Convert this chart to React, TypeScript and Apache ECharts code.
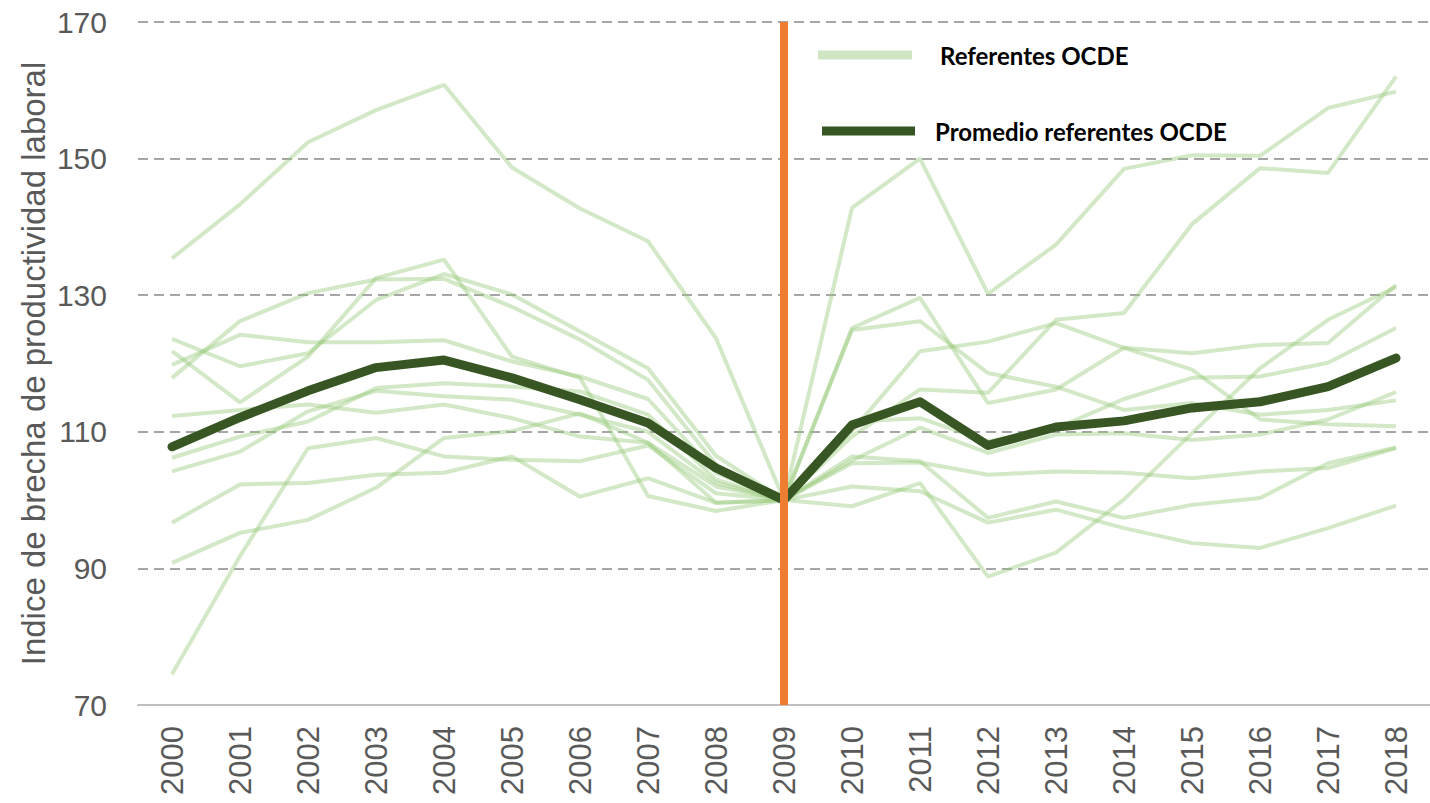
import React, { useEffect, useRef } from "react";
import * as echarts from "echarts";

const years = ["2000","2001","2002","2003","2004","2005","2006","2007","2008","2009","2010","2011","2012","2013","2014","2015","2016","2017","2018"];

const promedio = [107.8,112.1,116.0,119.4,120.5,117.9,114.7,111.3,104.7,100,111.0,114.4,108.0,110.7,111.6,113.5,114.4,116.6,120.8];

const ref1 = [135.4,143.3,152.4,157.1,160.8,148.7,142.7,137.9,123.7,100,142.8,150.0,130.2,137.4,148.5,150.5,150.4,157.4,159.8];
const ref2 = [121.8,114.3,121.0,132.5,135.2,121.0,117.9,100.6,98.4,100,109.3,116.2,115.7,126.4,127.4,140.4,148.6,147.9,162.0];
const ref3 = [123.6,119.6,121.5,129.3,133.1,130.1,124.7,119.3,106.5,100,125.2,129.6,114.2,116.2,122.3,121.5,122.7,123.0,131.5];
const ref4 = [117.9,126.2,130.3,132.3,132.4,128.3,123.5,117.6,105.2,100,110.1,121.8,123.2,125.9,122.3,119.1,111.8,111.1,110.8];
const ref5 = [119.8,124.2,123.1,123.1,123.4,120.3,118.1,114.8,104.0,100,111.5,112.0,108.6,110.5,114.8,117.9,118.1,120.1,125.2];
const ref6 = [112.3,113.2,114.0,112.8,114.0,112.0,109.3,108.4,102.0,100,124.9,126.2,118.6,116.6,113.2,114.2,112.5,113.2,114.6];
const ref7 = [106.2,109.3,111.5,116.4,117.1,116.6,115.9,112.5,103.0,100,105.8,110.6,106.9,109.6,109.8,108.8,109.6,111.8,115.8];
const ref8 = [104.2,107.1,113.0,116.0,115.2,114.7,112.5,110.0,102.5,100,99.1,102.5,88.8,92.3,100.1,109.8,119.3,126.4,131.2];
const ref9 = [96.7,102.3,102.5,103.7,104.0,106.4,100.5,103.2,99.6,100,105.4,105.5,103.7,104.2,104.0,103.2,104.2,104.7,107.6];
const ref10 = [74.5,91.8,107.6,109.1,106.4,105.9,105.7,108.0,101.0,100,106.4,105.7,97.4,99.8,97.4,99.3,100.3,105.4,107.7];
const ref11 = [90.8,95.2,97.1,101.8,109.1,110.1,112.7,108.4,99.6,100,102.0,101.3,96.7,98.6,95.9,93.7,93.0,95.9,99.2];

const referentes = [ref1, ref2, ref3, ref4, ref5, ref6, ref7, ref8, ref9, ref10, ref11];

const yTicks = { min: 70, max: 170, interval: 20 };
const markYear = "2009";

const LIGHT = "rgba(150,200,120,0.42)";
const DARK = "#375623";
const ORANGE = "#ED7D31";
const GREY_TEXT = "#595959";

export default function App() {
  const ref = useRef<HTMLDivElement | null>(null);

  useEffect(() => {
    if (!ref.current) return;
    const chart = echarts.init(ref.current, undefined, { renderer: "svg" });

    const lightSeries = referentes.map((data) => ({
      name: "Referentes OCDE",
      type: "line",
      data,
      symbol: "none",
      lineStyle: { color: LIGHT, width: 4 },
      itemStyle: { color: LIGHT },
      z: 2,
    }));

    const option = {
      animation: false,
      backgroundColor: "#ffffff",
      grid: { left: 138, right: 0, top: 22, bottom: 98, containLabel: false, outerBoundsMode: "none" },
      legend: [
        {
          data: [{ name: "Referentes OCDE", icon: "rect", itemStyle: { color: "rgba(150,200,120,0.45)" } }],
          left: 813,
          top: 38,
          itemWidth: 94,
          itemHeight: 9,
          selectedMode: false,
          textStyle: { color: "#000", fontFamily: "Lato", fontWeight: "bold", fontSize: 24, padding: [0, 0, 0, 23] },
        },
        {
          data: [{ name: "Promedio referentes OCDE", icon: "rect", itemStyle: { color: DARK } }],
          left: 817,
          top: 114,
          itemWidth: 93,
          itemHeight: 9,
          selectedMode: false,
          textStyle: { color: "#000", fontFamily: "Lato", fontWeight: "bold", fontSize: 24, padding: [0, 0, 0, 15] },
        },
      ],
      xAxis: {
        type: "category",
        data: years,
        boundaryGap: true,
        axisLine: { show: true, lineStyle: { color: "#BFBFBF", width: 2 } },
        axisTick: { show: false },
        axisLabel: {
          rotate: 90,
          margin: 21,
          color: GREY_TEXT,
          fontFamily: "Liberation Sans",
          fontSize: 31,
          interval: 0,
        },
        splitLine: { show: false },
        z: 3,
      },
      yAxis: {
        type: "value",
        min: yTicks.min,
        max: yTicks.max,
        interval: yTicks.interval,
        name: "Indice de brecha de productividad laboral",
        nameLocation: "middle",
        nameGap: 88,
        nameMoveOverlap: false,
        nameTextStyle: { color: GREY_TEXT, fontFamily: "Liberation Sans", fontSize: 33 },
        axisLine: { show: false },
        axisTick: { show: false },
        axisLabel: {
          margin: 31,
          color: GREY_TEXT,
          fontFamily: "Liberation Sans",
          fontSize: 30,
        },
        splitLine: { show: true, lineStyle: { color: "#A6A6A6", width: 2, type: [10, 6] } },
      },
      series: [
        ...lightSeries,
        {
          name: "Promedio referentes OCDE",
          type: "line",
          data: promedio,
          symbol: "none",
          lineStyle: { color: DARK, width: 9, cap: "round", join: "round" },
          itemStyle: { color: DARK },
          z: 4,
        },
        {
          name: "marca",
          type: "line",
          data: [],
          symbol: "none",
          z: 5,
          markLine: {
            silent: true,
            symbol: ["none", "none"],
            label: { show: false },
            lineStyle: { color: ORANGE, width: 8, type: "solid" },
            data: [{ xAxis: markYear }],
          },
        },
      ],
    };

    chart.setOption(option as any);
    return () => chart.dispose();
  }, []);

  return (
    <div
      ref={ref}
      style={{ position: "absolute", left: 0, top: 0, width: 1430, height: 803 }}
    />
  );
}
